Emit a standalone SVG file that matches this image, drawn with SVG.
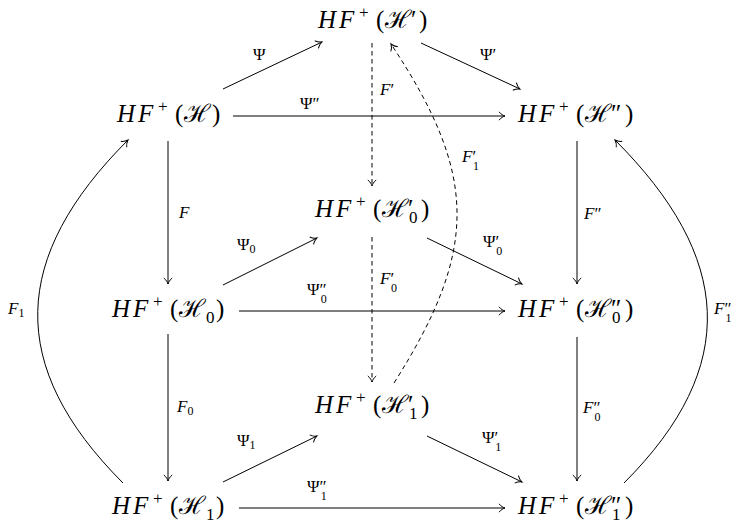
<svg xmlns="http://www.w3.org/2000/svg" width="738" height="524" viewBox="0 0 738 524">
<style>
.n{font-family:"Liberation Serif","DejaVu Serif",serif;font-size:25px;fill:#000}
.l{font-family:"Liberation Serif","DejaVu Serif",serif;font-size:17px;fill:#000}
.i{font-style:italic}
.s{font-size:17px}
.ls{font-size:12px}
.a{fill:none;stroke:#000;stroke-width:1}
.d{stroke-dasharray:4.5 3.5}
</style>
<defs>
<marker id="ah" markerUnits="userSpaceOnUse" viewBox="-8 -6 10 12" markerWidth="10" markerHeight="12" refX="0" refY="0" orient="auto" overflow="visible">
<path d="M-6,-4.2 C-4,-1.6 -1.6,-0.5 0,0 C-1.6,0.5 -4,1.6 -6,4.2" fill="none" stroke="#000" stroke-width="1"/>
</marker>
</defs>
<rect width="738" height="524" fill="#fff"/>
<g id="connectors">
<path class="a" marker-end="url(#ah)" d="M223,89 L322,42"/>
<path class="a" marker-end="url(#ah)" d="M421,43 L520,89"/>
<path class="a" marker-end="url(#ah)" d="M233,116 L505,116"/>
<path class="a d" marker-end="url(#ah)" d="M372,43 L372,186"/>
<path class="a d" marker-end="url(#ah)" d="M394,383 C479,249 478,175 391,44"/>
<path class="a" marker-end="url(#ah)" d="M168,141 L168,284"/>
<path class="a" marker-end="url(#ah)" d="M577,141 L577,284"/>
<path class="a" marker-end="url(#ah)" d="M123,483 C6,366 11,257 128,140"/>
<path class="a" marker-end="url(#ah)" d="M624,483 C741,366 732,257 615,140"/>
<path class="a" marker-end="url(#ah)" d="M223,285 L317,238"/>
<path class="a" marker-end="url(#ah)" d="M427,238 L522,284"/>
<path class="a" marker-end="url(#ah)" d="M239,311 L505,311"/>
<path class="a d" marker-end="url(#ah)" d="M372,237 L372,382"/>
<path class="a" marker-end="url(#ah)" d="M168,334 L168,481"/>
<path class="a" marker-end="url(#ah)" d="M577,337 L577,481"/>
<path class="a" marker-end="url(#ah)" d="M223,482 L317,436"/>
<path class="a" marker-end="url(#ah)" d="M427,436 L522,482"/>
<path class="a" marker-end="url(#ah)" d="M239,508 L505,508"/>
</g>
<g id="labels">
<text class="l" x="253" y="60">Ψ</text>
<text class="l" x="480" y="60">Ψ′</text>
<text class="l" x="300" y="109">Ψ″</text>
<text class="l" x="380" y="95"><tspan class="i">F</tspan>′</text>
<text class="l" x="462" y="162"><tspan class="i">F</tspan>′<tspan class="ls" dx="-3" dy="8">1</tspan></text>
<text class="l i" x="179" y="218">F</text>
<text class="l" x="584" y="219"><tspan class="i">F</tspan>″</text>
<text class="l" x="8" y="314"><tspan class="i">F</tspan><tspan class="ls" dy="3">1</tspan></text>
<text class="l" x="714" y="314"><tspan class="i">F</tspan>″<tspan class="ls" dx="-6" dy="8">1</tspan></text>
<text class="l" x="237" y="250">Ψ<tspan class="ls" dy="3">0</tspan></text>
<text class="l" x="483" y="247">Ψ′<tspan class="ls" dx="-3" dy="8">0</tspan></text>
<text class="l" x="307" y="295">Ψ″<tspan class="ls" dx="-6" dy="8">0</tspan></text>
<text class="l" x="380" y="284"><tspan class="i">F</tspan>′<tspan class="ls" dx="-3" dy="8">0</tspan></text>
<text class="l" x="177" y="412"><tspan class="i">F</tspan><tspan class="ls" dy="3">0</tspan></text>
<text class="l" x="583" y="413"><tspan class="i">F</tspan>″<tspan class="ls" dx="-6" dy="8">0</tspan></text>
<text class="l" x="237" y="446">Ψ<tspan class="ls" dy="3">1</tspan></text>
<text class="l" x="482" y="443">Ψ′<tspan class="ls" dx="-3" dy="8">1</tspan></text>
<text class="l" x="307" y="492">Ψ″<tspan class="ls" dx="-6" dy="8">1</tspan></text>
</g>
<g id="n-top"><text class="n" y="28"><tspan class="i" x="318">H</tspan><tspan class="i" x="339">F</tspan><tspan class="s" x="359" dy="-10">+</tspan><tspan x="376" dy="10">(</tspan><tspan x="385">ℋ′</tspan><tspan x="419">)</tspan></text></g>
<g id="n-h"><text class="n" y="122"><tspan class="i" x="117">H</tspan><tspan class="i" x="138">F</tspan><tspan class="s" x="158" dy="-10">+</tspan><tspan x="175" dy="10">(</tspan><tspan x="184">ℋ</tspan><tspan x="212">)</tspan></text></g>
<g id="n-h2"><text class="n" y="122"><tspan class="i" x="518">H</tspan><tspan class="i" x="539">F</tspan><tspan class="s" x="559" dy="-10">+</tspan><tspan x="576" dy="10">(</tspan><tspan x="585">ℋ″</tspan><tspan x="625">)</tspan></text></g>
<g id="n-h1p0"><text class="n" y="217"><tspan class="i" x="315">H</tspan><tspan class="i" x="336">F</tspan><tspan class="s" x="356" dy="-10">+</tspan><tspan x="373" dy="10">(</tspan><tspan x="382">ℋ′</tspan><tspan class="s" x="409" dy="6">0</tspan><tspan x="421" dy="-6">)</tspan></text></g>
<g id="n-h0"><text class="n" y="317"><tspan class="i" x="112">H</tspan><tspan class="i" x="133">F</tspan><tspan class="s" x="153" dy="-10">+</tspan><tspan x="170" dy="10">(</tspan><tspan x="179">ℋ</tspan><tspan class="s" x="206" dy="6">0</tspan><tspan x="216" dy="-6">)</tspan></text></g>
<g id="n-h2p0"><text class="n" y="317"><tspan class="i" x="518">H</tspan><tspan class="i" x="539">F</tspan><tspan class="s" x="559" dy="-10">+</tspan><tspan x="576" dy="10">(</tspan><tspan x="585">ℋ″</tspan><tspan class="s" x="612" dy="6">0</tspan><tspan x="625" dy="-6">)</tspan></text></g>
<g id="n-h1p1"><text class="n" y="413"><tspan class="i" x="315">H</tspan><tspan class="i" x="336">F</tspan><tspan class="s" x="356" dy="-10">+</tspan><tspan x="373" dy="10">(</tspan><tspan x="382">ℋ′</tspan><tspan class="s" x="409" dy="6">1</tspan><tspan x="421" dy="-6">)</tspan></text></g>
<g id="n-h1"><text class="n" y="514"><tspan class="i" x="112">H</tspan><tspan class="i" x="133">F</tspan><tspan class="s" x="153" dy="-10">+</tspan><tspan x="170" dy="10">(</tspan><tspan x="179">ℋ</tspan><tspan class="s" x="206" dy="6">1</tspan><tspan x="216" dy="-6">)</tspan></text></g>
<g id="n-h2p1"><text class="n" y="514"><tspan class="i" x="518">H</tspan><tspan class="i" x="539">F</tspan><tspan class="s" x="559" dy="-10">+</tspan><tspan x="576" dy="10">(</tspan><tspan x="585">ℋ″</tspan><tspan class="s" x="612" dy="6">1</tspan><tspan x="625" dy="-6">)</tspan></text></g>
</svg>
